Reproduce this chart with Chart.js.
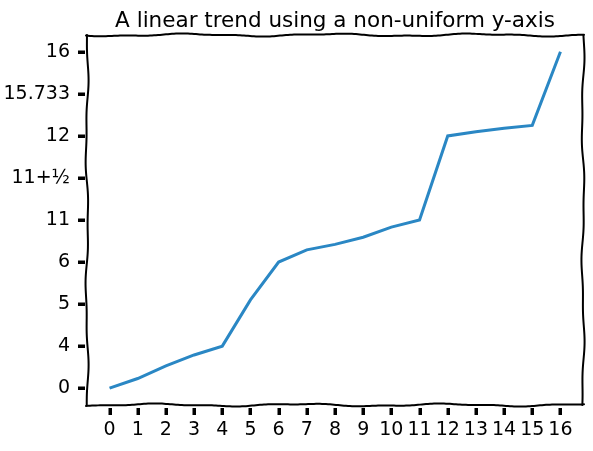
<!DOCTYPE html>
<html>
<head>
<meta charset="utf-8">
<script src="https://cdn.jsdelivr.net/npm/chart.js@4"></script>
<style>
  html, body { margin: 0; padding: 0; background: #fff; }
  #wrap { width: 593px; height: 451px; }
</style>
</head>
<body>
<div id="wrap"><canvas id="chart"></canvas></div>
<script>
// x values along the bottom
var xValues = [0, 1, 2, 3, 4, 5, 6, 7, 8, 9, 10, 11, 12, 13, 14, 15, 16];
// line height, in y-tick slots (0 = "0", 8 = "16")
var yValues = [0, 0.23, 0.53, 0.79, 1, 2.1, 3, 3.29, 3.42, 3.59, 3.83, 4, 6, 6.1, 6.18, 6.25, 8];
// labels of the non-uniform y axis, one per slot
var yTickLabels = ['0', '4', '5', '6', '11', '11+½', '12', '15.733', '16'];

var titleText = 'A linear trend using a non-uniform y-axis';
var fontFamily = "'Comic Sans MS', 'DejaVu Sans', sans-serif";

// hand-drawn looking frame, thick tick marks and the title
var xkcdDecor = {
  id: 'xkcdDecor',
  afterDatasetsDraw: function(chart) {
    var ctx = chart.ctx;
    var a = chart.chartArea;
    function edge(x1, y1, x2, y2, phase) {
      var len = Math.hypot(x2 - x1, y2 - y1);
      var nx = -(y2 - y1) / len, ny = (x2 - x1) / len;
      ctx.beginPath();
      for (var s = 0; s <= len; s += 2) {
        var t = s / len;
        var off = 1.1 * Math.sin(s / 23 + phase) + 0.5 * Math.sin(s / 9 + phase * 2);
        var px = x1 + (x2 - x1) * t + nx * off;
        var py = y1 + (y2 - y1) * t + ny * off;
        if (s === 0) ctx.moveTo(px, py); else ctx.lineTo(px, py);
      }
      ctx.stroke();
    }
    ctx.save();
    ctx.strokeStyle = '#000';
    ctx.lineWidth = 2;
    ctx.lineCap = 'round';
    edge(a.left - 1, a.top, a.right + 1, a.top, 0.3);
    edge(a.left - 1, a.bottom, a.right + 1, a.bottom, 1.7);
    edge(a.left, a.top, a.left, a.bottom, 2.9);
    edge(a.right, a.top, a.right, a.bottom, 4.1);

    ctx.fillStyle = '#000';
    var xs = chart.scales.x, ys = chart.scales.y;
    xs.ticks.forEach(function(t) {
      var px = Math.round(xs.getPixelForValue(t.value));
      ctx.fillRect(px - 1.5, a.bottom + 3, 3.5, 7);
    });
    ys.ticks.forEach(function(t) {
      var py = Math.round(ys.getPixelForValue(t.value));
      ctx.fillRect(a.left - 9, py - 1.5, 7, 3.5);
    });

    ctx.font = '21.5px ' + fontFamily;
    ctx.textAlign = 'center';
    ctx.textBaseline = 'alphabetic';
    ctx.fillText(titleText, (a.left + a.right) / 2, 27);
    ctx.restore();
  }
};

var points = xValues.map(function(x, i) { return {x: x, y: yValues[i]}; });

new Chart(document.getElementById('chart'), {
  type: 'line',
  data: {
    datasets: [{
      data: points,
      borderColor: '#2a87c4',
      borderWidth: 3,
      pointRadius: 0,
      tension: 0,
      fill: false
    }]
  },
  options: {
    responsive: true,
    maintainAspectRatio: false,
    animation: false,
    layout: { padding: { left: 0, right: 10, top: 35, bottom: 0 } },
    plugins: {
      legend: { display: false },
      tooltip: { enabled: false },
      title: { display: false }
    },
    scales: {
      x: {
        type: 'linear',
        min: -0.8,
        max: 16.8,
        afterBuildTicks: function(scale) {
          scale.ticks = xValues.map(function(v) { return {value: v}; });
        },
        afterFit: function(scale) { scale.height = 46; },
        border: { display: false },
        grid: { drawOnChartArea: false, drawTicks: true, tickLength: 9, tickColor: 'rgba(0,0,0,0)' },
        ticks: {
          color: '#000',
          padding: 5,
          maxRotation: 0,
          autoSkip: false,
          font: { family: fontFamily, size: 19 },
          callback: function(v) { return String(v); }
        }
      },
      y: {
        type: 'linear',
        min: -0.4,
        max: 8.4,
        afterBuildTicks: function(scale) {
          scale.ticks = yTickLabels.map(function(l, i) { return {value: i}; });
        },
        afterFit: function(scale) { scale.width = 87; },
        border: { display: false },
        grid: { drawOnChartArea: false, drawTicks: true, tickLength: 9, tickColor: 'rgba(0,0,0,0)' },
        ticks: {
          color: '#000',
          padding: 8,
          autoSkip: false,
          font: { family: fontFamily, size: 19 },
          callback: function(v) { return yTickLabels[Math.round(v)]; }
        }
      }
    }
  },
  plugins: [xkcdDecor]
});
</script>
</body>
</html>
